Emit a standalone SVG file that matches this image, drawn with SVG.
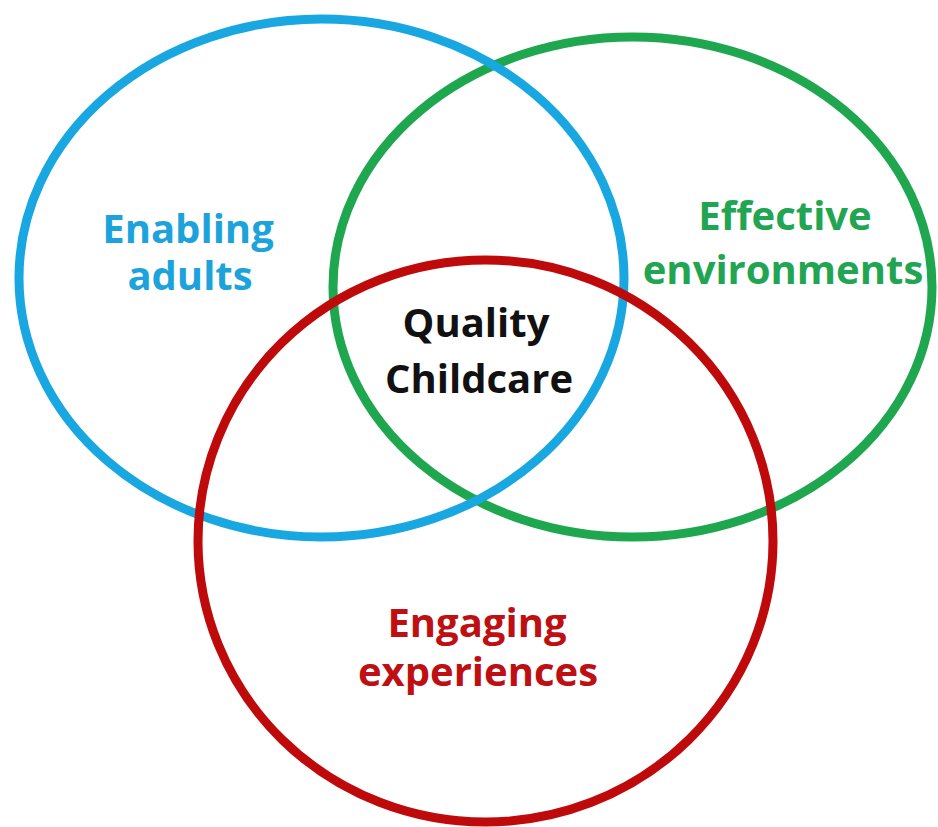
<svg xmlns="http://www.w3.org/2000/svg" width="938" height="827" viewBox="0 0 938 827">
<style>
.ring{fill:none;stroke-width:9}
.lbl{font-family:"Open Sans","Noto Sans","Liberation Sans",sans-serif;font-weight:bold;font-size:40px;text-anchor:middle}
</style>
<rect width="938" height="827" fill="#ffffff"/>
<g id="effective-environments">
<ellipse class="ring" cx="632.5" cy="287" rx="299.5" ry="250" stroke="#1EA74F"/>
<text class="lbl" fill="#22A552" x="785" y="230">Effective</text>
<text class="lbl" fill="#22A552" x="783" y="284">environments</text>
</g>
<g id="enabling-adults">
<ellipse class="ring" cx="321.5" cy="278" rx="302.5" ry="259" stroke="#19A7E1"/>
<text class="lbl" fill="#1CA3DC" x="188" y="243">Enabling</text>
<text class="lbl" fill="#1CA3DC" x="190" y="290">adults</text>
</g>
<g id="engaging-experiences">
<ellipse class="ring" cx="485.5" cy="541" rx="287.5" ry="281" stroke="#BE0A0A"/>
<text class="lbl" fill="#BE0F12" x="477" y="637">Engaging</text>
<text class="lbl" fill="#BE0F12" x="478" y="686">experiences</text>
</g>
<g id="quality-childcare">
<text class="lbl" fill="#111111" x="476" y="337">Quality</text>
<text class="lbl" fill="#111111" x="479" y="393">Childcare</text>
</g>
<g id="connectors"></g>
</svg>
